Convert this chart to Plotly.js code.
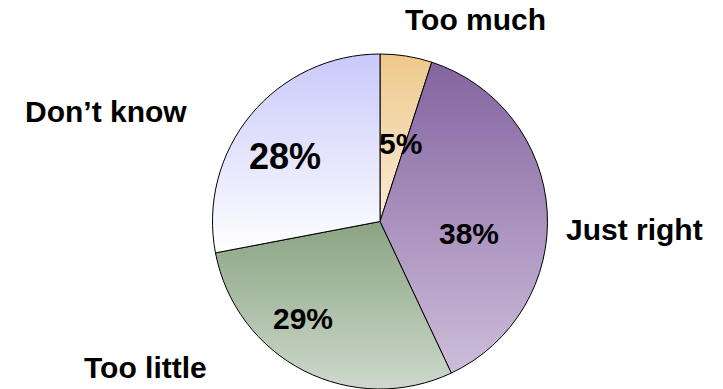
<!DOCTYPE html>
<html>
<head>
<meta charset="utf-8">
<script src="https://cdn.plot.ly/plotly-3.0.1.min.js"></script>
<style>
html,body{margin:0;padding:0;background:#fff;}
#chart{width:723px;height:389px;}
</style>
</head>
<body>
<div id="chart"></div>
<script>
// ---- data ----
const categories = ["Too much", "Just right", "Too little", "Don\u2019t know"];
const percents = [5, 38, 29, 28];

// ---- styling (kept separate from data) ----
const gradTop = ["#EEC98B", "#8464A0", "#8BA382", "#C9C9FB"];
const gradBottom = ["#FBEBD6", "#CDBDDA", "#CDD9CC", "#FFFFFF"];
const midColors = ["#F5DAB0", "#A890BD", "#ACBEA7", "#E4E4FD"];
const FONT = "Liberation Sans, Arial, sans-serif";
const W = 723, H = 389;
// label placements in pixels (layout only)
const pctPos = [[400, 143], [469, 234], [303, 318], [285, 156]];
const pctSize = [30, 30, 30, 36];
const catPos = [[475, 19], [634, 229], [145, 367], [106, 112]];

const annotations = [];
percents.forEach((v, i) => {
  annotations.push({
    text: "<b>" + v + "%</b>", xref: "paper", yref: "paper",
    x: pctPos[i][0] / W, y: 1 - pctPos[i][1] / H,
    xanchor: "center", yanchor: "middle", showarrow: false,
    font: {family: FONT, size: pctSize[i], color: "#000"}
  });
});
categories.forEach((c, i) => {
  annotations.push({
    text: "<b>" + c + "</b>", xref: "paper", yref: "paper",
    x: catPos[i][0] / W, y: 1 - catPos[i][1] / H,
    xanchor: "center", yanchor: "middle", showarrow: false,
    font: {family: FONT, size: 30, color: "#000"}
  });
});

const trace = {
  type: "pie",
  labels: categories,
  values: percents,
  sort: false,
  direction: "clockwise",
  rotation: 0,
  textinfo: "none",
  hoverinfo: "none",
  marker: {colors: midColors, line: {color: "#000", width: 1}},
  domain: {x: [212 / W, 548 / W], y: [0, 1 - 54 / H]},
  showlegend: false
};

const layout = {
  width: W, height: H,
  margin: {l: 0, r: 0, t: 0, b: 0},
  paper_bgcolor: "#fff",
  plot_bgcolor: "#fff",
  showlegend: false,
  annotations: annotations
};

Plotly.newPlot("chart", [trace], layout, {staticPlot: true, displayModeBar: false}).then(gd => {
  const svg = gd.querySelector("svg.main-svg");
  const NS = "http://www.w3.org/2000/svg";
  let defs = svg.querySelector("defs");
  if (!defs) { defs = document.createElementNS(NS, "defs"); svg.insertBefore(defs, svg.firstChild); }
  gradTop.forEach((c, i) => {
    const g = document.createElementNS(NS, "linearGradient");
    g.setAttribute("id", "sliceGrad" + i);
    g.setAttribute("x1", "0"); g.setAttribute("y1", "0");
    g.setAttribute("x2", "0"); g.setAttribute("y2", "1");
    const s1 = document.createElementNS(NS, "stop");
    s1.setAttribute("offset", "0"); s1.setAttribute("stop-color", c);
    const s2 = document.createElementNS(NS, "stop");
    s2.setAttribute("offset", "1"); s2.setAttribute("stop-color", gradBottom[i]);
    g.appendChild(s1); g.appendChild(s2);
    defs.appendChild(g);
  });
  const paths = gd.querySelectorAll("g.slice path.surface");
  paths.forEach((p, i) => { p.style.fill = "url(#sliceGrad" + i + ")"; });
});
</script>
</body>
</html>
